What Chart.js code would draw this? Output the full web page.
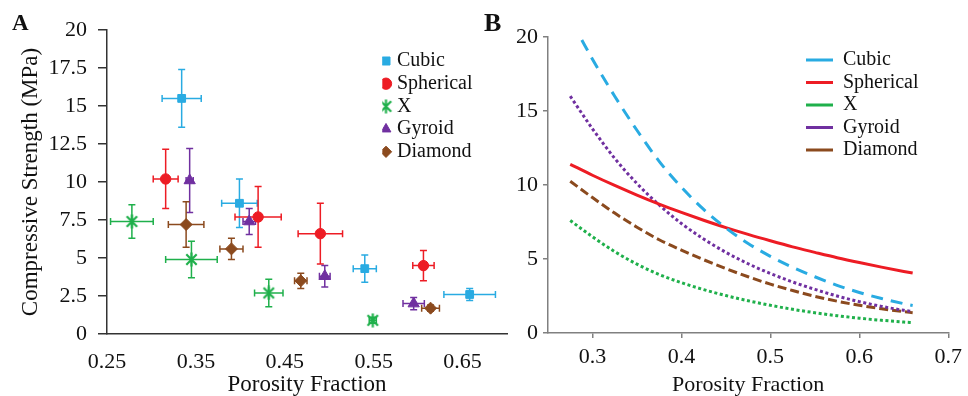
<!DOCTYPE html>
<html><head><meta charset="utf-8">
<script src="https://cdn.jsdelivr.net/npm/chart.js@4.4.1/dist/chart.umd.min.js"></script>
<style>
html,body{margin:0;padding:0;background:#fff;overflow:hidden;}
#wrap{position:relative;width:968px;height:396px;overflow:hidden;background:#fff;}
canvas{position:absolute;top:0;}
#cA{left:0;} #cB{left:480px;}
.panel{position:absolute;font-family:'Liberation Serif',serif;font-weight:bold;line-height:1;color:#111;}
</style></head><body>
<div id="wrap">
<canvas id="cA" width="520" height="396"></canvas>
<canvas id="cB" width="488" height="396"></canvas>
<div class="panel" style="left:12px;top:11px;font-size:23px">A</div>
<div class="panel" style="left:484px;top:10px;font-size:26px">B</div>
</div>
<script>
// ---------- shared ----------
const seriesNames = ['Cubic', 'Spherical', 'X', 'Gyroid', 'Diamond'];
const seriesColors = ['#29ABE2', '#ED1C24', '#1FB04B', '#7030A0', '#8B4A1E'];

// ---------- Panel A : measured data ----------
const cubicPor      = [0.334, 0.399, 0.540, 0.658];
const cubicStr      = [15.5, 8.6, 4.3, 2.6];
const cubicPorErr   = [0.022, 0.020, 0.013, 0.029];
const cubicStrErr   = [1.9, 1.6, 0.9, 0.4];

const sphericalPor    = [0.316, 0.420, 0.490, 0.606];
const sphericalStr    = [10.2, 7.7, 6.6, 4.5];
const sphericalPorErr = [0.014, 0.026, 0.025, 0.012];
const sphericalStrErr = [1.95, 2.0, 2.0, 1.0];

const xPor    = [0.278, 0.345, 0.432, 0.549];
const xStr    = [7.4, 4.9, 2.7, 0.9];
const xPorErr = [0.024, 0.029, 0.016, 0.004];
const xStrErr = [1.1, 1.2, 0.9, 0.2];

const gyroidPor    = [0.343, 0.410, 0.495, 0.595];
const gyroidStr    = [10.1, 7.4, 3.8, 2.0];
const gyroidPorErr = [0.004, 0.007, 0.006, 0.012];
const gyroidStrErr = [2.1, 0.85, 0.7, 0.4];

const diamondPor    = [0.339, 0.390, 0.468, 0.614];
const diamondStr    = [7.2, 5.6, 3.5, 1.7];
const diamondPorErr = [0.020, 0.013, 0.007, 0.010];
const diamondStrErr = [1.5, 0.7, 0.5, 0.2];

const xTickLabelsA = ['0.25', '0.35', '0.45', '0.55', '0.65'];
const yTickLabelsA = ['0', '2.5', '5', '7.5', '10', '12.5', '15', '17.5', '20'];

// ---------- Panel B : fitted curves ----------
const fitPor      = [0.275, 0.3, 0.325, 0.35, 0.375, 0.4, 0.425, 0.45, 0.475, 0.5, 0.525, 0.55, 0.575, 0.6, 0.625, 0.65, 0.66];
const cubicFitPor = [0.288, 0.3, 0.325, 0.35, 0.375, 0.4, 0.425, 0.45, 0.475, 0.5, 0.525, 0.55, 0.575, 0.6, 0.625, 0.65, 0.66];
const cubicFit     = [19.8, 18.5, 16.0, 13.7, 11.6, 9.85, 8.35, 7.1, 6.05, 5.18, 4.44, 3.8, 3.22, 2.74, 2.33, 1.98, 1.86];
const sphericalFit = [11.4, 10.66, 9.97, 9.32, 8.71, 8.15, 7.62, 7.12, 6.66, 6.23, 5.82, 5.45, 5.09, 4.76, 4.45, 4.16, 4.05];
const xFit         = [7.6, 6.5, 5.5, 4.65, 3.95, 3.4, 2.93, 2.53, 2.18, 1.87, 1.6, 1.37, 1.17, 1.0, 0.86, 0.74, 0.7];
const gyroidFit    = [16.0, 13.8, 11.8, 10.1, 8.65, 7.4, 6.35, 5.45, 4.68, 4.02, 3.45, 2.95, 2.5, 2.12, 1.8, 1.53, 1.45];
const diamondFit   = [10.25, 9.15, 8.1, 7.15, 6.3, 5.6, 4.95, 4.35, 3.8, 3.3, 2.87, 2.48, 2.15, 1.87, 1.64, 1.44, 1.37];

const xTickLabelsB = ['0.3', '0.4', '0.5', '0.6', '0.7'];
const yTickLabelsB = ['0', '5', '10', '15', '20'];

// ---------- helpers ----------
Chart.defaults.font.family = "'Liberation Serif', 'Times New Roman', serif";
Chart.defaults.color = '#111';
const pts = (xs, ys) => xs.map((x, i) => ({x: x, y: ys[i]}));
const fixedTicks = labels => (scale => { scale.ticks = labels.map(l => ({value: parseFloat(l)})); });
const tickLabel = labels => ((v, i) => labels[i]);

function starMarker(color) {
  const c = document.createElement('canvas');
  c.width = 15; c.height = 15;
  const g = c.getContext('2d');
  g.strokeStyle = color; g.lineWidth = 2.2; g.lineCap = 'butt';
  g.beginPath();
  g.moveTo(2.3, 2.3); g.lineTo(12.7, 12.7);
  g.moveTo(12.7, 2.3); g.lineTo(2.3, 12.7);
  g.moveTo(7.5, 0.5); g.lineTo(7.5, 14.5);
  g.stroke();
  return c;
}

const moveLegend = {
  id: 'moveLegend',
  afterLayout(chart, args, opts) {
    const lg = chart.legend;
    if (!lg) return;
    const w = lg.width;
    lg.left = opts.x; lg.right = opts.x + w;
    lg.top = opts.y; lg.bottom = opts.y + 300;
  }
};

const errorBars = {
  id: 'errorBars',
  beforeDatasetsDraw(chart) {
    const ctx = chart.ctx, xs = chart.scales.x, ys = chart.scales.y;
    chart.data.datasets.forEach(ds => {
      ctx.save();
      ctx.strokeStyle = ds.borderColor;
      ctx.lineWidth = 1.5;
      const cap = 3.5;
      ds.data.forEach((p, j) => {
        const px = xs.getPixelForValue(p.x), py = ys.getPixelForValue(p.y);
        const x0 = xs.getPixelForValue(p.x - ds.errX[j]), x1 = xs.getPixelForValue(p.x + ds.errX[j]);
        const y0 = ys.getPixelForValue(p.y - ds.errY[j]), y1 = ys.getPixelForValue(p.y + ds.errY[j]);
        ctx.beginPath();
        ctx.moveTo(x0, py); ctx.lineTo(x1, py);
        ctx.moveTo(x0, py - cap); ctx.lineTo(x0, py + cap);
        ctx.moveTo(x1, py - cap); ctx.lineTo(x1, py + cap);
        ctx.moveTo(px, y0); ctx.lineTo(px, y1);
        ctx.moveTo(px - cap, y0); ctx.lineTo(px + cap, y0);
        ctx.moveTo(px - cap, y1); ctx.lineTo(px + cap, y1);
        ctx.stroke();
      });
      ctx.restore();
    });
  }
};

// ---------- Chart A ----------
const aPor = [cubicPor, sphericalPor, xPor, gyroidPor, diamondPor];
const aStr = [cubicStr, sphericalStr, xStr, gyroidStr, diamondStr];
const aPorErr = [cubicPorErr, sphericalPorErr, xPorErr, gyroidPorErr, diamondPorErr];
const aStrErr = [cubicStrErr, sphericalStrErr, xStrErr, gyroidStrErr, diamondStrErr];
const aStyles = ['rect', 'circle', starMarker(seriesColors[2]), 'triangle', 'rectRot'];
const aRadius = [5.5, 5.2, 7, 6.5, 6];

new Chart(document.getElementById('cA'), {
  type: 'scatter',
  data: {
    datasets: seriesNames.map((n, i) => ({
      label: n,
      data: pts(aPor[i], aStr[i]),
      errX: aPorErr[i], errY: aStrErr[i],
      pointStyle: aStyles[i],
      pointRadius: aRadius[i],
      pointBorderWidth: 1,
      backgroundColor: seriesColors[i],
      borderColor: seriesColors[i]
    }))
  },
  options: {
    responsive: false, animation: false, devicePixelRatio: 1,
    layout: {padding: {top: 30, right: 13, bottom: 0, left: 0}},
    plugins: {
      tooltip: {enabled: false},
      legend: {
        position: 'chartArea', align: 'start',
        labels: {usePointStyle: true, boxWidth: 2, boxHeight: 8, padding: 2.7,
                 font: {size: 20}, color: '#111'}
      },
      moveLegend: {x: 382.3, y: 48.3}
    },
    scales: {
      x: {
        type: 'linear', min: 0.25, max: 0.7,
        afterBuildTicks: fixedTicks(xTickLabelsA),
        afterFit: s => { s.height = 62; },
        ticks: {callback: tickLabel(xTickLabelsA), padding: 15, font: {size: 22}, color: '#111', maxRotation: 0, autoSkip: false},
        grid: {display: false, drawTicks: false},
        border: {display: true, color: '#333', width: 1.5},
        title: {display: true, text: 'Porosity Fraction', font: {size: 23, lineHeight: 1}, padding: {top: 0, bottom: 0}, color: '#111'}
      },
      y: {
        type: 'linear', min: 0, max: 20,
        afterBuildTicks: fixedTicks(yTickLabelsA),
        afterFit: s => { s.width = 107; },
        ticks: {callback: tickLabel(yTickLabelsA), padding: 11, font: {size: 22}, color: '#111', autoSkip: false},
        grid: {display: true, drawOnChartArea: false, drawTicks: true, tickLength: 9, color: '#333', lineWidth: 1.5},
        border: {display: true, color: '#333', width: 1.5},
        title: {display: true, text: 'Compressive Strength (MPa)', font: {size: 23, lineHeight: 1}, padding: {top: 19, bottom: 0}, color: '#111'}
      }
    }
  },
  plugins: [errorBars, moveLegend]
});

// ---------- Chart B ----------
const bPor = [cubicFitPor, fitPor, fitPor, fitPor, fitPor];
const bVal = [cubicFit, sphericalFit, xFit, gyroidFit, diamondFit];
const bDash = [[12, 8], [], [3, 2.6], [3, 2.6], [9, 4]];

new Chart(document.getElementById('cB'), {
  type: 'line',
  data: {
    datasets: seriesNames.map((n, i) => ({
      label: n,
      data: pts(bPor[i], bVal[i]),
      borderColor: seriesColors[i],
      backgroundColor: seriesColors[i],
      borderWidth: 3,
      borderDash: bDash[i],
      pointRadius: 0,
      pointStyle: 'line',
      fill: false,
      cubicInterpolationMode: 'monotone'
    }))
  },
  options: {
    responsive: false, animation: false, devicePixelRatio: 1,
    layout: {padding: {top: 37, right: 15, bottom: 0, left: 0}},
    plugins: {
      tooltip: {enabled: false},
      legend: {
        position: 'chartArea', align: 'start',
        labels: {usePointStyle: true, pointStyleWidth: 27, boxHeight: 8, padding: 2.5,
                 font: {size: 20}, color: '#111'}
      },
      moveLegend: {x: 323.5, y: 47.5}
    },
    scales: {
      x: {
        type: 'linear', min: 0.25, max: 0.7,
        afterBuildTicks: fixedTicks(xTickLabelsB),
        afterFit: s => { s.height = 63; },
        ticks: {callback: tickLabel(xTickLabelsB), padding: 6, font: {size: 22}, color: '#111', maxRotation: 0, autoSkip: false},
        grid: {display: true, drawOnChartArea: false, drawTicks: true, tickLength: 5, color: '#808080', lineWidth: 1.5},
        border: {display: true, color: '#808080', width: 1.5},
        title: {display: true, text: 'Porosity Fraction', font: {size: 22, lineHeight: 1}, padding: {top: 0, bottom: 0}, color: '#111'}
      },
      y: {
        type: 'linear', min: 0, max: 20,
        afterBuildTicks: fixedTicks(yTickLabelsB),
        afterFit: s => { s.width = 68; },
        ticks: {callback: tickLabel(yTickLabelsB), padding: 5, font: {size: 22}, color: '#111', autoSkip: false},
        grid: {display: true, drawOnChartArea: false, drawTicks: true, tickLength: 5, color: '#808080', lineWidth: 1.5},
        border: {display: true, color: '#808080', width: 1.5}
      }
    }
  },
  plugins: [moveLegend]
});
</script>
</body></html>
